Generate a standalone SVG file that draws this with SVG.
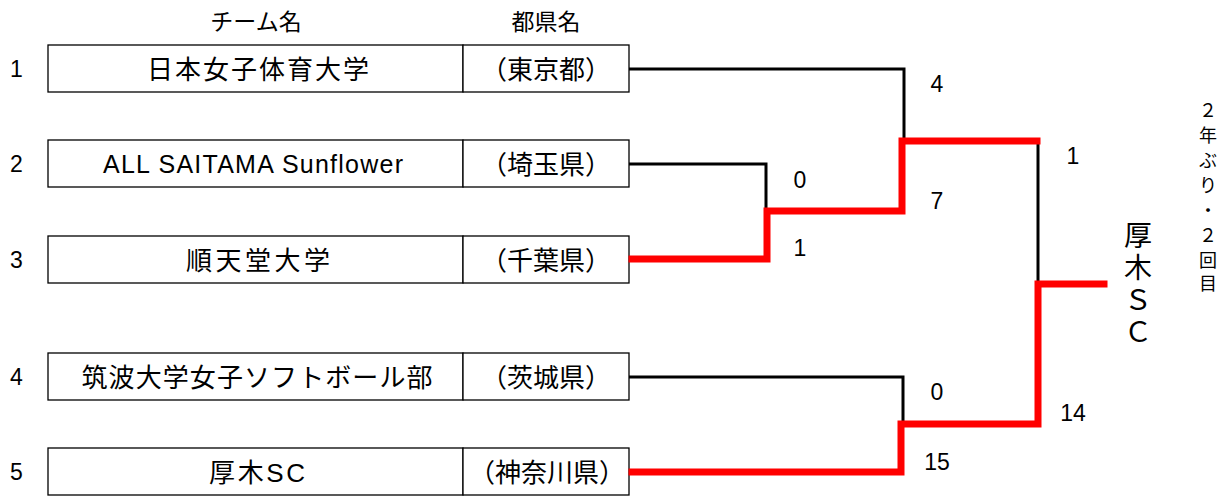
<svg xmlns="http://www.w3.org/2000/svg" width="1226" height="499" viewBox="0 0 1226 499">
<style>
text{font-family:"Liberation Sans","Noto Sans CJK JP",sans-serif;fill:#000}
.t{font-size:26px;text-anchor:middle}
.h{font-size:23px;text-anchor:middle}
.n{font-size:23px;text-anchor:middle}
.s{font-size:23px}
.box{fill:#fff;stroke:#000;stroke-width:1.3}
.b{fill:none;stroke:#000;stroke-width:3}
.r{fill:none;stroke:#f00;stroke-width:7;stroke-linejoin:miter;stroke-linecap:square}
.v{font-size:28px;text-anchor:middle}
.w{font-size:18px;text-anchor:middle}
</style>
<rect width="1226" height="499" fill="#fff"/>
<g id="headers">
<text class="h" x="256" y="30">チーム名</text>
<text class="h" x="546" y="30">都県名</text>
</g>
<g id="team1">
<text class="s" x="10" y="77">1</text>
<rect class="box" x="48" y="45" width="415" height="47"/>
<rect class="box" x="463" y="45" width="166" height="47"/>
<text class="t" x="258" y="79" textLength="222" lengthAdjust="spacing">日本女子体育大学</text>
<text class="t" x="546" y="79">（東京都）</text>
</g>
<g id="team2">
<text class="s" x="10" y="172">2</text>
<rect class="box" x="48" y="140" width="415" height="47"/>
<rect class="box" x="463" y="140" width="166" height="47"/>
<text class="t" x="253" y="173" textLength="300" lengthAdjust="spacing" style="font-size:25px">ALL SAITAMA Sunflower</text>
<text class="t" x="546" y="174">（埼玉県）</text>
</g>
<g id="team3">
<text class="s" x="10" y="268">3</text>
<rect class="box" x="48" y="236" width="415" height="47"/>
<rect class="box" x="463" y="236" width="166" height="47"/>
<text class="t" x="258" y="270" textLength="144" lengthAdjust="spacing">順天堂大学</text>
<text class="t" x="546" y="270">（千葉県）</text>
</g>
<g id="team4">
<text class="s" x="10" y="385">4</text>
<rect class="box" x="48" y="353" width="415" height="47"/>
<rect class="box" x="463" y="353" width="166" height="47"/>
<text class="t" x="257" y="387" textLength="351" lengthAdjust="spacing">筑波大学女子ソフトボール部</text>
<text class="t" x="546" y="387">（茨城県）</text>
</g>
<g id="team5">
<text class="s" x="10" y="480">5</text>
<rect class="box" x="48" y="448" width="415" height="47"/>
<rect class="box" x="463" y="448" width="166" height="47"/>
<text class="t" x="257" y="482" textLength="96" lengthAdjust="spacing">厚木SC</text>
<text class="t" x="547" y="482">（神奈川県）</text>
</g>
<g id="connectors">
<polyline class="b" points="629,69 904,69 904,141"/>
<polyline class="b" points="629,164 766,164 766,210"/>
<polyline class="b" points="629,377 903,377 903,423"/>
<polyline class="b" points="1038,141 1038,283"/>
<polyline class="r" points="632,259 767,259 767,211 902,211 902,141 1037,141"/>
<polyline class="r" points="632,472 901,472 901,424 1038,424 1038,284 1104,284"/>
</g>
<g id="scores">
<text class="n" x="937" y="92">4</text>
<text class="n" x="800" y="188">0</text>
<text class="n" x="800" y="256">1</text>
<text class="n" x="937" y="209">7</text>
<text class="n" x="1073" y="164">1</text>
<text class="n" x="937" y="400">0</text>
<text class="n" x="937" y="470">15</text>
<text class="n" x="1073" y="421">14</text>
</g>
<g id="champion">
<text class="v" x="1138" y="246">厚</text>
<text class="v" x="1138" y="278">木</text>
<text class="v" x="1138" y="310">Ｓ</text>
<text class="v" x="1138" y="342">Ｃ</text>
</g>
<g id="note">
<text class="w" x="1208" y="117">２</text>
<text class="w" x="1208" y="142">年</text>
<text class="w" x="1208" y="167">ぶ</text>
<text class="w" x="1208" y="192">り</text>
<text class="w" x="1208" y="217">・</text>
<text class="w" x="1208" y="242">２</text>
<text class="w" x="1208" y="267">回</text>
<text class="w" x="1208" y="290">目</text>
</g>
</svg>
